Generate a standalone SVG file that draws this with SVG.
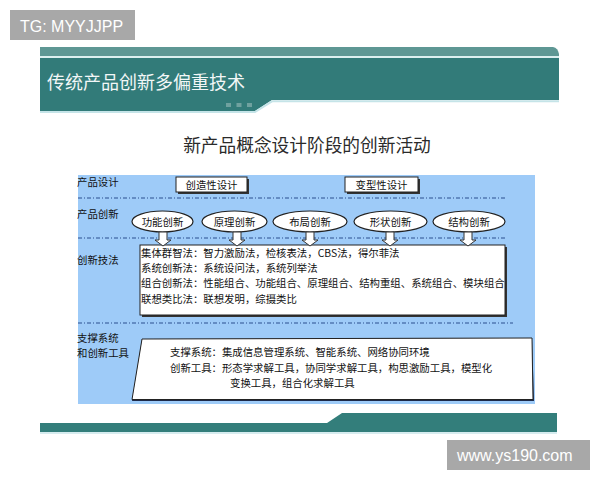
<svg xmlns="http://www.w3.org/2000/svg" width="600" height="480" viewBox="0 0 600 480">
<style>
.t{font-family:"Noto Sans CJK SC","Liberation Sans",sans-serif;font-size:10.4px;fill:#111}
.lbl{font-family:"Noto Sans CJK SC","Liberation Sans",sans-serif;font-size:10.4px;fill:#111}
.wm{font-family:"Liberation Sans",Arial,sans-serif;font-size:16px;fill:#fff}
.dash{stroke:#2b4f8f;stroke-width:1;stroke-dasharray:4 2 1 2;fill:none}
.box{fill:#fff;stroke:#222;stroke-width:1}
.shadow{fill:#333}
.ell{fill:#fff;stroke:#222;stroke-width:1.2}
.arrow{fill:#fff;stroke:#333;stroke-width:1}
</style>
<rect width="600" height="480" fill="#fff"/>

<!-- top watermark -->
<g id="wm-top">
<rect x="10" y="10" width="125" height="30" fill="#a8a8a8"/>
<text class="wm" x="20" y="31.5">TG: MYYJJPP</text>
</g>

<!-- header band -->
<g id="header">
<path d="M40,47 H553 Q558,48 559,54 V56 H40 Z" fill="#5e9794"/>
<rect x="40" y="56" width="519" height="2" fill="#dcefef"/>
<polygon points="40,58 559,58 559,100 272,100 255,111 40,111" fill="#327b79"/>
<polyline points="40,112 255,112 272,101.3 559,101.3" fill="none" stroke="#c5e4e8" stroke-width="2"/>
<rect x="226" y="103" width="5" height="4" fill="#6fa19f"/>
<rect x="236.5" y="103" width="5" height="4" fill="#6fa19f"/>
<rect x="247" y="103" width="5" height="4" fill="#6fa19f"/>
<text x="47" y="89" font-family="'Noto Sans CJK SC',sans-serif" font-size="18" fill="#f2f7f7">传统产品创新多偏重技术</text>
</g>

<text id="subtitle" x="307" y="152" text-anchor="middle" font-family="'Noto Sans CJK SC',sans-serif" font-size="17.7" fill="#2a2a2a">新产品概念设计阶段的创新活动</text>

<!-- blue panel -->
<g id="panel">
<rect x="78" y="175" width="457" height="229" fill="#9ecbf8"/>
<line class="dash" x1="78" y1="198" x2="505" y2="198"/>
<line class="dash" x1="78" y1="238" x2="505" y2="238"/>
<line class="dash" x1="78" y1="323" x2="513" y2="323"/>
</g>

<!-- row labels -->
<g id="row-labels">
<text class="lbl" x="77" y="185.5">产品设计</text>
<text class="lbl" x="77" y="218">产品创新</text>
<text class="lbl" x="77" y="264">创新技法</text>
<text class="lbl" x="77" y="342">支撑系统</text>
<text class="lbl" x="77" y="357">和创新工具</text>
</g>

<!-- design boxes -->
<g id="box-creative">
<rect class="shadow" x="178" y="179" width="71" height="15"/>
<rect class="box" x="176" y="177" width="71" height="15"/>
<text class="t" x="211.5" y="188.5" text-anchor="middle">创造性设计</text>
</g>
<g id="box-variant">
<rect class="shadow" x="347" y="179" width="73" height="15"/>
<rect class="box" x="345" y="177" width="73" height="15"/>
<text class="t" x="381.5" y="188.5" text-anchor="middle">变型性设计</text>
</g>

<!-- innovation ellipses -->
<g id="ell-function">
<ellipse class="ell" cx="162.5" cy="221.5" rx="30.5" ry="10.5"/>
<text class="t" x="162.5" y="225.5" text-anchor="middle">功能创新</text>
</g>
<g id="ell-principle">
<ellipse class="ell" cx="234.5" cy="221.5" rx="32.5" ry="10.5"/>
<text class="t" x="234.5" y="225.5" text-anchor="middle">原理创新</text>
</g>
<g id="ell-layout">
<ellipse class="ell" cx="310" cy="221.5" rx="37" ry="10.5"/>
<text class="t" x="310" y="225.5" text-anchor="middle">布局创新</text>
</g>
<g id="ell-shape">
<ellipse class="ell" cx="390.5" cy="221.5" rx="36.5" ry="10.5"/>
<text class="t" x="390.5" y="225.5" text-anchor="middle">形状创新</text>
</g>
<g id="ell-structure">
<ellipse class="ell" cx="469" cy="221.5" rx="36" ry="10.5"/>
<text class="t" x="469" y="225.5" text-anchor="middle">结构创新</text>
</g>

<!-- techniques box -->
<g id="box-techniques">
<rect class="shadow" x="142" y="247" width="365" height="70"/>
<rect class="box" x="140" y="245" width="365" height="70"/>
<text class="t" x="141" y="257">集体群智法：智力激励法，检核表法，CBS法，得尔菲法</text>
<text class="t" x="141" y="272">系统创新法：系统设问法，系统列举法</text>
<text class="t" x="141" y="287">组合创新法：性能组合、功能组合、原理组合、结构重组、系统组合、模块组合</text>
<text class="t" x="141" y="303">联想类比法：联想发明，综摄类比</text>
</g>

<!-- support tools trapezoid -->
<g id="box-tools">
<polygon points="142,339 532,338 534,401 132,401" fill="#1e2a4a"/>
<polygon points="142,339 532,338 533,399.5 132,399.5" fill="#fff" stroke="#222" stroke-width="1"/>
<text class="t" x="170" y="356">支撑系统：集成信息管理系统、智能系统、网络协同环境</text>
<text class="t" x="170" y="372">创新工具：形态学求解工具，协同学求解工具，构思激励工具，模型化</text>
<text class="t" x="230" y="387">变换工具，组合化求解工具</text>
</g>

<!-- connectors -->
<g id="connectors">
<path class="arrow" d="M159,232 H167 V240 H171 L163,246 L155,240 H159 Z"/>
<path class="arrow" d="M233,232 H241 V240 H245 L237,246 L229,240 H233 Z"/>
<path class="arrow" d="M306,232 H314 V240 H318 L310,246 L302,240 H306 Z"/>
<path class="arrow" d="M386,232 H394 V240 H398 L390,246 L382,240 H386 Z"/>
<path class="arrow" d="M464,232 H472 V240 H476 L468,246 L460,240 H464 Z"/>
</g>

<!-- bottom band -->
<g id="footer">
<polygon points="40,423 327,423 342,413 557,413 557,432 40,432" fill="#337e7b"/>
<line x1="40" y1="433" x2="557" y2="433" stroke="#c8e6ea" stroke-width="1.5"/>
</g>

<!-- bottom watermark -->
<g id="wm-bottom">
<rect x="447" y="440" width="143" height="30" fill="#a8a8a8"/>
<text class="wm" x="457" y="460.5" font-size="16.6">www.ys190.com</text>
</g>
</svg>
